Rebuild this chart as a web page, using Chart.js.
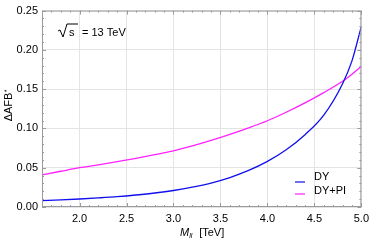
<!DOCTYPE html>
<html>
<head>
<meta charset="utf-8">
<script src="https://cdn.jsdelivr.net/npm/chart.js@4.4.1/dist/chart.umd.min.js"></script>
<style>
  html, body { margin: 0; padding: 0; background: #fff; }
  #wrap { width: 374px; height: 241px; }
</style>
</head>
<body>
<div id="wrap"><canvas id="afbChart" width="374" height="241"></canvas></div>
<script>
// invariant mass [TeV]
const massTeV = [1.6, 1.8, 2.0, 2.2, 2.4, 2.6, 2.8, 3.0, 3.2, 3.4, 3.6, 3.8, 4.0, 4.2, 4.4, 4.6, 4.8, 4.9, 5.0];
const afbDY   = [0.0080, 0.0090, 0.0102, 0.0116, 0.0132, 0.0153, 0.0178, 0.0210, 0.0252, 0.0305, 0.0375, 0.0465, 0.0580, 0.0728, 0.0920, 0.1170, 0.1570, 0.1860, 0.2300];
const afbDYPI = [0.0410, 0.0455, 0.0500, 0.0537, 0.0577, 0.0620, 0.0666, 0.0715, 0.0777, 0.0847, 0.0924, 0.1007, 0.1098, 0.1206, 0.1325, 0.1456, 0.1600, 0.1690, 0.1790];
const xTicks = [2.0, 2.5, 3.0, 3.5, 4.0, 4.5, 5.0];
const yTicks = [0.00, 0.05, 0.10, 0.15, 0.20, 0.25];
const seriesNames = ["DY", "DY+PI"];
const seriesColors = ["#1010ee", "#ff22ff"];
const energyLabel = "= 13 TeV";

const FONT = "'Liberation Sans', Arial, sans-serif";

function toPoints(xs, ys) {
    return xs.map((x, i) => ({ x: x, y: ys[i] }));
}

// frame, inward ticks, annotation, legend and axis titles
const decorPlugin = {
    id: "decor",
    afterDraw(chart) {
        const ctx = chart.ctx;
        const a = chart.chartArea;
        const xs = chart.scales.x;
        const ys = chart.scales.y;
        ctx.save();

        // frame
        ctx.strokeStyle = "#9a9a9a";
        ctx.lineWidth = 1;
        ctx.strokeRect(a.left + 0.5, a.top + 0.5, a.right - a.left - 1, a.bottom - a.top - 1);

        // ticks
        ctx.beginPath();
        for (let i = 16; i <= 50; i++) {
            const v = i / 10;
            const px = Math.round(xs.getPixelForValue(v)) + 0.5;
            const len = (i % 5 === 0) ? 4 : 2;
            ctx.moveTo(px, a.bottom); ctx.lineTo(px, a.bottom - len);
            ctx.moveTo(px, a.top); ctx.lineTo(px, a.top + len);
        }
        for (let i = 0; i <= 25; i++) {
            const v = i / 100;
            const py = Math.round(ys.getPixelForValue(v)) + 0.5;
            const len = (i % 5 === 0) ? 4 : 2;
            ctx.moveTo(a.left, py); ctx.lineTo(a.left + len, py);
            ctx.moveTo(a.right, py); ctx.lineTo(a.right - len, py);
        }
        ctx.stroke();

        // sqrt(s) annotation
        ctx.fillStyle = "#000";
        ctx.strokeStyle = "#000";
        ctx.font = "11px " + FONT;
        ctx.textBaseline = "alphabetic";
        const bx = 58, by = 36;
        ctx.beginPath();
        ctx.lineWidth = 1;
        ctx.moveTo(bx, by - 5);
        ctx.lineTo(bx + 2, by - 6);
        ctx.lineTo(bx + 5, by + 1);
        ctx.lineTo(bx + 9, by - 12);
        ctx.lineTo(bx + 20, by - 12);
        ctx.stroke();
        ctx.fillText("s", bx + 11, by);
        ctx.fillText(energyLabel, bx + 24, by);

        // legend
        const lx = 295;
        const lineY = [182, 194];
        const textY = [177, 191];
        seriesNames.forEach((name, i) => {
            ctx.strokeStyle = seriesColors[i];
            ctx.lineWidth = 1.2;
            ctx.beginPath();
            ctx.moveTo(lx, lineY[i]);
            ctx.lineTo(lx + 10, lineY[i]);
            ctx.stroke();
            ctx.fillStyle = "#000";
            ctx.textBaseline = "middle";
            ctx.fillText(name, lx + 19, textY[i]);
        });

        // x title: M_ll [TeV]
        ctx.textBaseline = "alphabetic";
        const tx = 180, ty = 236;
        ctx.font = "italic 11px " + FONT;
        ctx.fillText("M", tx, ty);
        const mw = ctx.measureText("M").width;
        ctx.font = "italic 7px " + FONT;
        ctx.fillText("ll", tx + mw, ty + 2);
        ctx.font = "11px " + FONT;
        ctx.fillText("[TeV]", tx + mw + 10, ty);

        // y title
        ctx.save();
        ctx.translate(12, 107);
        ctx.rotate(-Math.PI / 2);
        ctx.textAlign = "center";
        ctx.font = "11px " + FONT;
        ctx.fillText("\u0394AFB", 0, 0);
        const w = ctx.measureText("\u0394AFB").width;
        ctx.font = "7px " + FONT;
        ctx.textAlign = "left";
        ctx.fillText("*", w / 2 + 0.5, -3);
        ctx.restore();

        ctx.restore();
    }
};

new Chart(document.getElementById("afbChart"), {
    type: "line",
    data: {
        datasets: [
            {
                label: seriesNames[0],
                data: toPoints(massTeV, afbDY),
                borderColor: seriesColors[0],
                borderWidth: 1.3,
                pointRadius: 0,
                cubicInterpolationMode: "monotone",
                fill: false
            },
            {
                label: seriesNames[1],
                data: toPoints(massTeV, afbDYPI),
                borderColor: seriesColors[1],
                borderWidth: 1.3,
                pointRadius: 0,
                cubicInterpolationMode: "monotone",
                fill: false
            }
        ]
    },
    options: {
        responsive: false,
        animation: false,
        layout: { padding: { top: 7, right: 8, left: 0, bottom: 0 } },
        plugins: {
            legend: { display: false },
            tooltip: { enabled: false }
        },
        scales: {
            x: {
                type: "linear",
                min: 1.6,
                max: 5.0,
                afterBuildTicks: (scale) => { scale.ticks = xTicks.map(v => ({ value: v })); },
                afterFit: (scale) => { scale.height = 34; },
                grid: { color: "#e4e4e4", tickLength: 0, drawTicks: false },
                border: { display: false },
                ticks: {
                    color: "#000",
                    padding: 5,
                    maxRotation: 0,
                    font: { family: FONT, size: 11 },
                    callback: (v) => Number(v).toFixed(1)
                }
            },
            y: {
                min: 0,
                max: 0.25,
                afterBuildTicks: (scale) => { scale.ticks = yTicks.map(v => ({ value: v })); },
                afterFit: (scale) => { scale.width = 42; },
                grid: { color: "#e4e4e4", tickLength: 0, drawTicks: false },
                border: { display: false },
                ticks: {
                    color: "#000",
                    padding: 4,
                    font: { family: FONT, size: 11 },
                    callback: (v) => Number(v).toFixed(2)
                }
            }
        }
    },
    plugins: [decorPlugin]
});
</script>
</body>
</html>
